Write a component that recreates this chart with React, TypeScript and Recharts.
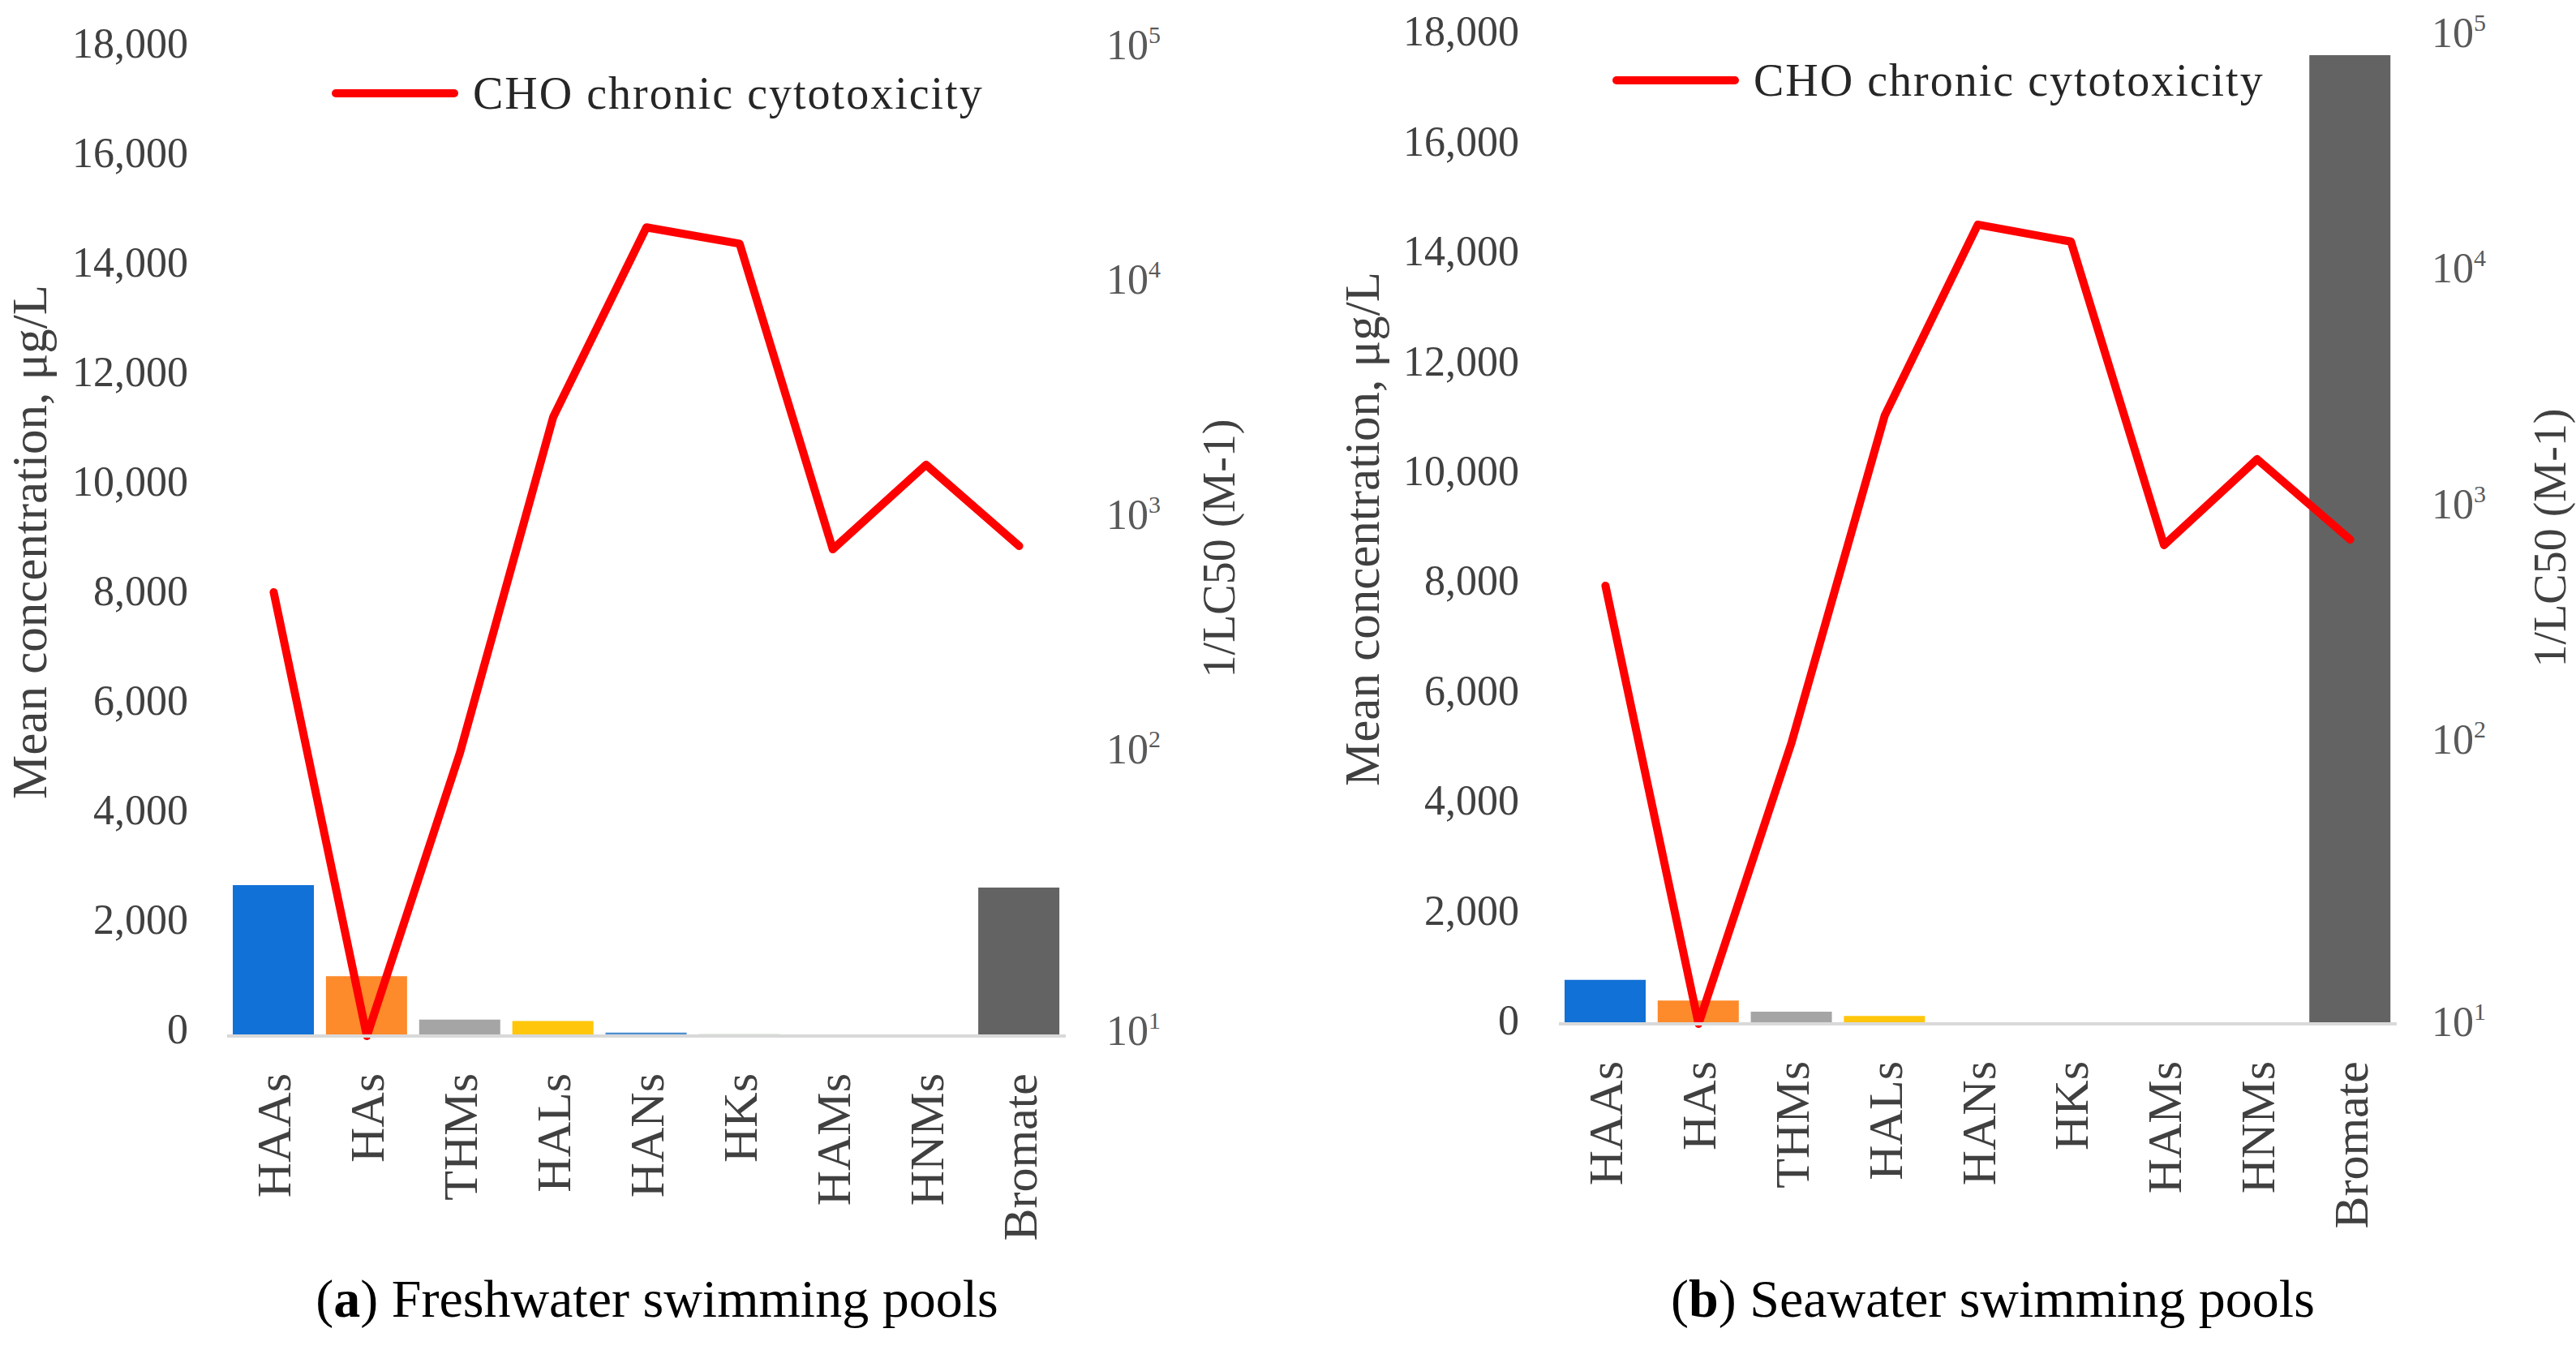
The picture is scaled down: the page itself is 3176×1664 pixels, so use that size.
import React from 'react';
import { ComposedChart, Bar, Line, XAxis, YAxis, Cell, Legend } from 'recharts';

const FONT = "'Liberation Serif', 'Times New Roman', serif";

// ---- data -------------------------------------------------------------
const CATEGORIES = ['HAAs', 'HAs', 'THMs', 'HALs', 'HANs', 'HKs', 'HAMs', 'HNMs', 'Bromate'];
const BAR_COLORS = ['#1271D6', '#FD8A2B', '#A5A5A5', '#FFC60B', '#4A8FD2', '#93C38F', '#264478', '#9E480E', '#636363'];

// mean concentration, µg/L (left axis)
const FRESH_CONCENTRATION = [2756, 1092, 300, 275, 64, 35, 5, 5, 2711];
const SEA_CONCENTRATION = [802, 424, 223, 144, 5, 3, 2, 2, 17630];

// CHO chronic cytotoxicity, 1/LC50 (M-1) (right axis, log)
const FRESH_CYTOTOXICITY = [491, 6.31, 102, 2740, 17600, 15000, 748, 1714, 773];
const SEA_CYTOTOXICITY = [458, 6.31, 99, 2420, 15640, 13250, 681, 1578, 719];

const CONC_TICKS = [0, 2000, 4000, 6000, 8000, 10000, 12000, 14000, 16000, 18000];
const TOX_AXIS_MIN = 6.31; // bottom of the log axis, labelled 10^1 in the source figure
const TOX_AXIS_MAX = 100000;
const TOX_TICKS = [TOX_AXIS_MIN, 100, 1000, 10000, 100000];
const TOX_TICK_EXPONENTS = ['1', '2', '3', '4', '5'];

const LEGEND_LABEL = 'CHO chronic cytotoxicity';
const CONC_TITLE = 'Mean concentration, \u03bcg/L';
const TOX_TITLE = '1/LC50 (M-1)';

const buildRows = (conc: number[], tox: number[]) =>
  CATEGORIES.map((name, i) => ({ name, conc: conc[i], tox: tox[i] }));

const FRESH_ROWS = buildRows(FRESH_CONCENTRATION, FRESH_CYTOTOXICITY);
const SEA_ROWS = buildRows(SEA_CONCENTRATION, SEA_CYTOTOXICITY);

// ---- ticks -------------------------------------------------------------
const makeLeftTick = (offset: number, shift: number) => (p: any) => (
  <text
    x={p.x - offset}
    y={p.y + shift}
    dy="0.35em"
    textAnchor="end"
    fontSize={52}
    fontFamily={FONT}
    fill="#404040"
  >
    {Number(p.payload.value).toLocaleString('en-US')}
  </text>
);

const makeRightTick = (offset: number, shift: number) => (p: any) => {
  const idx = TOX_TICKS.findIndex((t) => Math.abs(t - p.payload.value) < 1e-6);
  return (
    <text
      x={p.x + offset}
      y={p.y + shift}
      dy="0.35em"
      textAnchor="start"
      fontSize={52}
      fontFamily={FONT}
      fill="#595959"
    >
      10
      <tspan dy={-20} fontSize={30}>
        {TOX_TICK_EXPONENTS[idx]}
      </tspan>
    </text>
  );
};

const XTick = (p: any) => (
  <text
    transform={`translate(${p.x},${p.y + 46}) rotate(-90)`}
    dy="0.35em"
    textAnchor="end"
    fontSize={60}
    fontFamily={FONT}
    fill="#404040"
  >
    {p.payload.value}
  </text>
);

const LegendContent = () => (
  <div style={{ display: 'flex', alignItems: 'center', whiteSpace: 'nowrap' }}>
    <div style={{ width: 156, height: 10, background: '#FF0000', borderRadius: 5 }} />
    <span
      style={{
        marginLeft: 18,
        fontSize: 56,
        lineHeight: 1,
        letterSpacing: 2,
        fontFamily: FONT,
        color: '#262626',
      }}
    >
      {LEGEND_LABEL}
    </span>
  </div>
);

type PanelLayout = {
  left: number;
  margin: { top: number; right: number; bottom: number; left: number };
  leftTickOffset: number;
  leftTickShift: number;
  rightTickOffset: number;
  rightTickShift: number;
  legendLeft: number;
  legendTop: number;
};

const Panel = ({ rows, layout }: { rows: any[]; layout: PanelLayout }) => (
  <div style={{ position: 'absolute', left: layout.left, top: 0 }}>
    <ComposedChart width={1588} height={1664} data={rows} margin={layout.margin}>
      <XAxis
        dataKey="name"
        interval={0}
        height={250}
        tickLine={false}
        tickSize={0}
        tickMargin={0}
        axisLine={{ stroke: '#D9D9D9', strokeWidth: 4 }}
        tick={XTick}
      />
      <YAxis
        yAxisId="left"
        orientation="left"
        width={200}
        domain={[0, 18000]}
        ticks={CONC_TICKS}
        interval={0}
        axisLine={false}
        tickLine={false}
        tickSize={0}
        tickMargin={0}
        tick={makeLeftTick(layout.leftTickOffset, layout.leftTickShift)}
      />
      <YAxis
        yAxisId="right"
        orientation="right"
        width={200}
        scale="log"
        domain={[TOX_AXIS_MIN, TOX_AXIS_MAX]}
        ticks={TOX_TICKS}
        interval={0}
        axisLine={false}
        tickLine={false}
        tickSize={0}
        tickMargin={0}
        tick={makeRightTick(layout.rightTickOffset, layout.rightTickShift)}
      />
      <Legend
        layout="horizontal"
        verticalAlign="middle"
        align="center"
        wrapperStyle={{
          position: 'absolute',
          left: layout.legendLeft,
          top: layout.legendTop,
          width: 'auto',
          height: 'auto',
        }}
        content={() => <LegendContent />}
      />
      <Bar yAxisId="left" dataKey="conc" barSize={100} isAnimationActive={false} name="Mean concentration">
        {rows.map((r, i) => (
          <Cell key={r.name} fill={BAR_COLORS[i]} />
        ))}
      </Bar>
      <Line
        yAxisId="right"
        type="linear"
        dataKey="tox"
        name={LEGEND_LABEL}
        stroke="#FF0000"
        strokeWidth={10}
        strokeLinejoin="round"
        strokeLinecap="round"
        dot={false}
        activeDot={false}
        isAnimationActive={false}
      />
    </ComposedChart>
  </div>
);

const FRESH_LAYOUT: PanelLayout = {
  left: 0,
  margin: { top: 62, right: 74, bottom: 137, left: 80 },
  leftTickOffset: 48,
  leftTickShift: -9,
  rightTickOffset: 50,
  rightTickShift: -7,
  legendLeft: 409,
  legendTop: 87,
};

const SEA_LAYOUT: PanelLayout = {
  left: 1588,
  margin: { top: 43, right: 21, bottom: 152, left: 134 },
  leftTickOffset: 49,
  leftTickShift: -5,
  rightTickOffset: 43,
  rightTickShift: -3,
  legendLeft: 400,
  legendTop: 71,
};

const RotTitle = ({ x, y, size, text }: { x: number; y: number; size: number; text: string }) => (
  <text
    transform={`translate(${x},${y}) rotate(-90)`}
    textAnchor="middle"
    fontSize={size}
    fontFamily={FONT}
    fill="#404040"
  >
    {text}
  </text>
);

export default function App() {
  return (
    <div
      style={{
        position: 'absolute',
        left: 0,
        top: 0,
        width: 3176,
        height: 1664,
        background: '#FFFFFF',
        overflow: 'hidden',
        fontFamily: FONT,
      }}
    >
      <Panel rows={FRESH_ROWS} layout={FRESH_LAYOUT} />
      <Panel rows={SEA_ROWS} layout={SEA_LAYOUT} />
      <svg
        width={3176}
        height={1664}
        style={{ position: 'absolute', left: 0, top: 0, pointerEvents: 'none' }}
      >
        <RotTitle x={57} y={668} size={61} text={CONC_TITLE} />
        <RotTitle x={1522} y={676} size={56} text={TOX_TITLE} />
        <RotTitle x={1700} y={652} size={61} text={CONC_TITLE} />
        <RotTitle x={3163} y={663} size={56} text={TOX_TITLE} />
        <text x={810} y={1623} textAnchor="middle" fontSize={66} fontFamily={FONT} fill="#000">
          (<tspan fontWeight="bold">a</tspan>) Freshwater swimming pools
        </text>
        <text x={2457} y={1623} textAnchor="middle" fontSize={66} fontFamily={FONT} fill="#000">
          (<tspan fontWeight="bold">b</tspan>) Seawater swimming pools
        </text>
      </svg>
    </div>
  );
}
